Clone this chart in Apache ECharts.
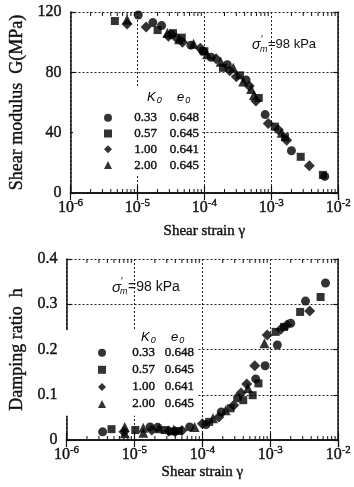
<!DOCTYPE html>
<html>
<head>
<meta charset="utf-8">
<script src="https://cdn.jsdelivr.net/npm/echarts@6/dist/echarts.min.js"></script>
<style>html,body{margin:0;padding:0;background:#fff}#c{width:354px;height:487px}</style>
</head>
<body>
<div id="c"></div>
<script>
// ---- data ----
const k0Values = ['0.33', '0.57', '1.00', '2.00'];
const e0Values = ['0.648', '0.645', '0.641', '0.645'];
const xTickValues = [1e-6, 1e-5, 1e-4, 1e-3, 1e-2];
const gTicks = [0, 40, 80, 120];
const hTicks = [0, 0.1, 0.2, 0.3, 0.4];

// shear modulus G (MPa) vs shear strain
const gK033 = [[1.03e-5,118],[1.7e-5,113],[2.3e-5,111],[3.2e-5,105],[6.3e-5,98],[9.5e-5,94],[1.26e-4,90],[2.2e-4,85],[4.2e-4,75],[8.1e-4,52],[2.0e-3,28],[6.3e-3,11]];
const gK057 = [[4.6e-6,114],[2.0e-5,108],[3.4e-5,106],[4.6e-5,103],[1.0e-4,94],[1.9e-4,83],[3.4e-4,78],[6.5e-4,63],[1.13e-3,44],[1.6e-3,37],[2.75e-3,24],[5.9e-3,12]];
const gK100 = [[7.0e-6,112],[1.35e-5,110],[2.9e-5,104],[3.8e-5,103],[4.7e-5,100],[8.7e-5,96],[1.5e-4,89],[2.4e-4,81],[3.0e-4,77],[4.7e-4,71],[5.9e-4,61],[9.0e-4,46],[1.27e-3,42],[1.7e-3,35],[3.7e-3,18]];
const gK200 = [[7.0e-6,115],[2.8e-5,106],[4.2e-5,102],[6.9e-5,99],[1.1e-4,92],[1.75e-4,87],[2.7e-4,83],[3.8e-4,74],[5.0e-4,69],[5.5e-4,65],[1.43e-3,40]];

// damping ratio h vs shear strain
const hK033 = [[3.4e-6,0.018],[1.7e-5,0.029],[2.2e-5,0.028],[6.5e-5,0.029],[1.13e-4,0.034],[1.9e-4,0.062],[3.3e-4,0.093],[6.1e-4,0.135],[8.4e-4,0.164],[1.27e-3,0.21],[2.0e-3,0.258],[3.3e-3,0.307],[6.5e-3,0.347]];
const hK057 = [[4.6e-6,0.024],[1.03e-5,0.022],[2.8e-5,0.022],[3.5e-5,0.019],[4.5e-5,0.02],[1.26e-4,0.04],[2.6e-4,0.07],[4.0e-4,0.088],[5.5e-4,0.099],[6.7e-4,0.125],[1.2e-3,0.239],[1.6e-3,0.25],[2.75e-3,0.283],[5.5e-3,0.316]];
const hK100 = [[7.0e-6,0.018],[1.8e-5,0.022],[3.2e-5,0.02],[4.0e-5,0.018],[5.0e-5,0.021],[1.0e-4,0.036],[1.75e-4,0.051],[2.9e-4,0.077],[3.7e-4,0.104],[4.5e-4,0.124],[5.9e-4,0.164],[9.0e-4,0.232],[1.43e-3,0.245],[1.75e-3,0.254],[3.8e-3,0.285]];
const hK200 = [[7.2e-6,0.029],[7.2e-6,0.015],[1.35e-5,0.027],[1.35e-5,0.016],[2.3e-5,0.026],[3.8e-5,0.023],[7.7e-5,0.029],[1.43e-4,0.048],[2.2e-4,0.066],[4.7e-4,0.115],[8.2e-4,0.214]];

const gSeriesData = [gK033, gK057, gK100, gK200];
const hSeriesData = [hK033, hK057, hK100, hK200];

// ---- styling / build ----
const SERIF = 'Liberation Serif';
const SANS = 'Liberation Sans';
const INK = '#111';
const BOLDEN = { textBorderColor: INK, textBorderWidth: 0.4 };
const markerShapes = ['circle', 'rect', 'diamond', 'triangle'];
const markerSizes = [9, 8, 11, 10];
const names = k0Values.map((k, i) => k + '|' + e0Values[i]);

// minor log ticks (2..9 in each decade)
const minorValues = [];
for (let d = -6; d < -2; d++) for (let m = 2; m <= 9; m++) minorValues.push(m * Math.pow(10, d));

function xAxes(gridIndex, nameGap) {
  const base = { type: 'log', logBase: 10, min: 1e-6, max: 1e-2, gridIndex: gridIndex };
  return [
    Object.assign({}, base, {
      position: 'bottom',
      axisLine: { show: true, lineStyle: { color: INK, width: 1.5 } },
      axisTick: { show: true, inside: true, length: 7, lineStyle: { color: INK, width: 1.2 } },
      axisLabel: {
        show: true, margin: 5, color: INK, fontFamily: SERIF, fontSize: 16,
        formatter: v => '{b|10}{s|' + Math.round(Math.log10(v)) + '}',
        rich: {
          b: Object.assign({ fontFamily: SERIF, fontSize: 16, color: INK, lineHeight: 18, verticalAlign: 'bottom' }, BOLDEN),
          s: Object.assign({ fontFamily: SERIF, fontSize: 11, color: INK, lineHeight: 11, verticalAlign: 'top' }, BOLDEN)
        }
      },
      splitLine: { show: true, lineStyle: { color: '#222', type: [2, 2], width: 1 } },
      name: 'Shear strain γ', nameLocation: 'middle', nameGap: nameGap,
      nameTextStyle: Object.assign({ fontFamily: SERIF, fontSize: 15, color: INK }, BOLDEN)
    }),
    Object.assign({}, base, {
      position: 'top',
      axisLine: { show: true, lineStyle: { color: INK, width: 1.5 } },
      axisTick: { show: true, inside: true, length: 7, lineStyle: { color: INK, width: 1.2 } },
      axisLabel: { show: false },
      splitLine: { show: false }
    })
  ];
}

function yAxes(gridIndex, ticks, title, nameGap, fmt) {
  const base = {
    type: 'value', gridIndex: gridIndex,
    min: ticks[0], max: ticks[ticks.length - 1], interval: ticks[1] - ticks[0]
  };
  return [
    Object.assign({}, base, {
      position: 'left',
      axisLine: { show: true, lineStyle: { color: INK, width: 1.5 } },
      axisTick: { show: true, inside: true, length: 5, lineStyle: { color: INK, width: 1.2 } },
      axisLabel: Object.assign({ margin: 9, color: INK, fontFamily: SERIF, fontSize: 16, formatter: fmt }, BOLDEN),
      splitLine: { show: true, lineStyle: { color: '#222', type: [2, 2], width: 1 } },
      name: title, nameLocation: 'middle', nameGap: nameGap,
      nameTextStyle: Object.assign({ fontFamily: SERIF, fontSize: 18, color: INK }, BOLDEN)
    }),
    Object.assign({}, base, {
      position: 'right',
      axisLine: { show: true, lineStyle: { color: INK, width: 1.5 } },
      axisTick: { show: true, inside: true, length: 5, lineStyle: { color: INK, width: 1.2 } },
      axisLabel: { show: false },
      splitLine: { show: false }
    })
  ];
}

// minor tick marks drawn through the axis scales
function minorTickSeries(xIdx, yIdx, ticks) {
  const yMin = ticks[0], yMax = ticks[ticks.length - 1];
  return {
    type: 'custom', xAxisIndex: xIdx, yAxisIndex: yIdx, silent: true, clip: false, z: 5,
    data: minorValues.map(v => [v, yMin]),
    renderItem: function (params, api) {
      const v = api.value(0);
      const b = api.coord([v, yMin]);
      const t = api.coord([v, yMax]);
      const st = { stroke: INK, lineWidth: 1 };
      return {
        type: 'group',
        children: [
          { type: 'line', shape: { x1: b[0], y1: b[1], x2: b[0], y2: b[1] - 4 }, style: st },
          { type: 'line', shape: { x1: t[0], y1: t[1], x2: t[0], y2: t[1] + 4 }, style: st }
        ]
      };
    }
  };
}

const series = [];
gSeriesData.forEach((d, i) => series.push({
  type: 'scatter', name: names[i], xAxisIndex: 0, yAxisIndex: 0, data: d,
  symbol: markerShapes[i], symbolSize: markerSizes[i],
  itemStyle: { color: '#000' }, z: 3
}));
hSeriesData.forEach((d, i) => series.push({
  type: 'scatter', name: names[i], xAxisIndex: 2, yAxisIndex: 2, data: d,
  symbol: markerShapes[i], symbolSize: markerSizes[i],
  itemStyle: { color: '#000' }, z: 3
}));
series.push(minorTickSeries(0, 0, gTicks));
series.push(minorTickSeries(2, 2, hTicks));

function legendFmt(name) {
  const p = name.split('|');
  return '{k|' + p[0] + '}{e|' + p[1] + '}';
}
function legendRich(kw, ew) {
  return {
    k: Object.assign({ fontFamily: SERIF, fontSize: 13, color: INK, width: kw, align: 'right', lineHeight: 12 }, BOLDEN),
    e: Object.assign({ fontFamily: SERIF, fontSize: 13, color: INK, width: ew, align: 'right', lineHeight: 12 }, BOLDEN)
  };
}

function headerText(x, y) {
  const rich = {
    i: { fontFamily: SANS, fontStyle: 'italic', fontSize: 13, color: INK },
    s: { fontFamily: SANS, fontStyle: 'italic', fontSize: 9, color: INK, padding: [5, 0, 0, 1] }
  };
  return [
    { type: 'text', left: x, top: y, z: 100, style: { text: '{i|K}{s|0}', rich: rich } },
    { type: 'text', left: x + 30, top: y, z: 100, style: { text: '{i|e}{s|0}', rich: rich } }
  ];
}

function sigmaNote(x, y, fs) {
  return {
    type: 'group', left: x, top: y, z: 100,
    children: [
      { type: 'rect', shape: { x: -2, y: -2, width: 70, height: 20 }, style: { fill: '#fff' } },
      { type: 'text', x: 0, y: 2, style: { text: 'σ', fontFamily: SANS, fontStyle: 'italic', fontSize: fs + 1, fill: INK } },
      { type: 'text', x: 9, y: -1, style: { text: '\u2032', fontFamily: SANS, fontSize: 10, fill: INK } },
      { type: 'text', x: 8, y: 9, style: { text: 'm', fontFamily: SANS, fontStyle: 'italic', fontSize: 9, fill: INK } },
      { type: 'text', x: 16, y: 2, style: { text: '=98 kPa', fontFamily: SANS, fontSize: fs, fill: INK } }
    ]
  };
}

const option = {
  animation: false,
  backgroundColor: '#fff',
  grid: [
    { left: 61, right: 13, top: 12, height: 181 },
    { left: 61, right: 13, top: 259, height: 181 }
  ],
  xAxis: [].concat(xAxes(0, 31), xAxes(1, 21)),
  yAxis: [].concat(
    yAxes(0, gTicks, 'Shear modulus  G(MPa)', 33, v => String(v)),
    yAxes(1, hTicks, 'Damping ratio  h', 36, v => (v === 0 ? '0' : v.toFixed(1)))
  ),
  legend: [
    {
      data: names, orient: 'vertical', left: 73, top: 88,
      padding: [23, 3, 3, 31], itemGap: 2.4, itemWidth: 8, itemHeight: 8,
      backgroundColor: '#fff', selectedMode: false, z: 4,
      formatter: legendFmt, textStyle: { rich: legendRich(40, 42) }
    },
    {
      data: names, orient: 'vertical', left: 66, top: 330,
      padding: [16, 3, 5, 32], itemGap: 3.7, itemWidth: 8, itemHeight: 8,
      backgroundColor: '#fff', selectedMode: false, z: 4,
      formatter: legendFmt, textStyle: { rich: legendRich(44, 39) }
    }
  ],
  graphic: [].concat(
    headerText(147, 91),
    headerText(141, 331),
    [sigmaNote(250, 34, 13), sigmaNote(110, 276, 14)]
  ),
  series: series
};

const chart = echarts.init(document.getElementById('c'), null, { renderer: 'canvas' });
chart.setOption(option);
</script>
</body>
</html>
